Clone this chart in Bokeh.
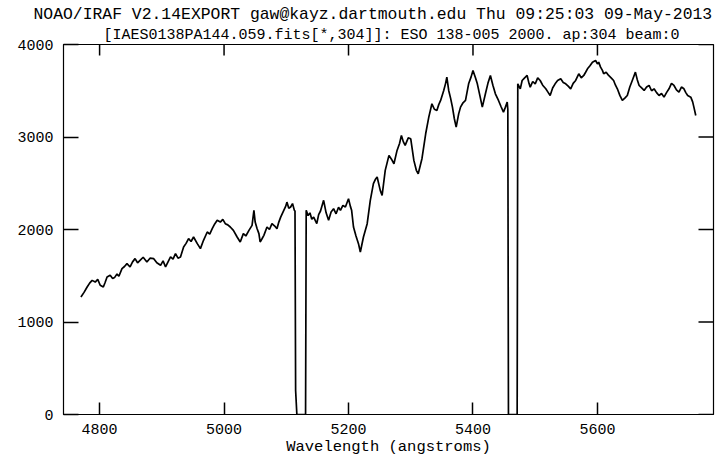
import math
from bokeh.plotting import figure
from bokeh.models import Range1d, FixedTicker, Title
from bokeh.embed import file_html
from bokeh.resources import INLINE

# ---- data ----
wavelength = [
    4770, 4775, 4780, 4784, 4788, 4793, 4797, 4801, 4806, 4809, 4812, 4817, 4821, 4824, 4828, 4831,
    4836, 4840, 4844, 4849, 4853, 4857, 4861, 4865, 4870, 4876, 4881, 4887, 4892, 4898, 4902, 4906,
    4910, 4914, 4918, 4922, 4926, 4930, 4935, 4939, 4943, 4947, 4951, 4957, 4962, 4967, 4973, 4977,
    4981, 4985, 4989, 4994, 4998, 5002, 5006, 5010, 5015, 5021, 5026, 5031, 5035, 5040, 5045, 5048,
    5050, 5053, 5056, 5058, 5061, 5064, 5069, 5073, 5077, 5081, 5085, 5088, 5091, 5096, 5099, 5101,
    5104, 5107, 5110, 5113, 5114, 5115, 5117, 5131, 5132, 5135, 5138, 5141, 5144, 5149, 5152, 5155,
    5160, 5164, 5168, 5172, 5176, 5180, 5184, 5187, 5191, 5195, 5200, 5203, 5205, 5208, 5212, 5216,
    5219, 5224, 5230, 5235, 5240, 5243, 5246, 5251, 5254, 5259, 5262, 5265, 5269, 5273, 5278, 5282,
    5285, 5288, 5291, 5296, 5300, 5305, 5309, 5312, 5318, 5324, 5329, 5334, 5338, 5342, 5345, 5348,
    5353, 5356, 5358, 5361, 5364, 5367, 5370, 5373, 5377, 5380, 5384, 5388, 5393, 5397, 5400, 5404,
    5407, 5411, 5415, 5420, 5424, 5428, 5432, 5436, 5441, 5445, 5449, 5452, 5455, 5456, 5457, 5471,
    5472, 5476, 5479, 5483, 5487, 5490, 5492, 5496, 5500, 5504, 5508, 5512, 5517, 5521, 5524, 5528,
    5532, 5536, 5541, 5545, 5549, 5553, 5557, 5561, 5565, 5570, 5574, 5578, 5581, 5584, 5588, 5592,
    5597, 5600, 5602, 5605, 5608, 5610, 5614, 5618, 5622, 5626, 5629, 5632, 5636, 5640, 5644, 5648,
    5652, 5656, 5661, 5664, 5667, 5671, 5675, 5679, 5683, 5687, 5691, 5695, 5699, 5703, 5707, 5711,
    5715, 5719, 5723, 5727, 5731, 5735, 5739, 5742, 5745, 5750, 5753, 5755, 5758,
]
flux = [
    1270, 1320, 1378, 1420, 1450, 1432, 1460, 1397, 1378, 1430, 1486, 1505, 1470, 1480, 1520, 1494,
    1577, 1600, 1631, 1595, 1650, 1685, 1640, 1667, 1700, 1649, 1690, 1685, 1640, 1613, 1660, 1595,
    1650, 1703, 1680, 1739, 1690, 1703, 1811, 1850, 1901, 1870, 1919, 1847, 1793, 1883, 1973, 1950,
    2009, 2060, 2099, 2080, 2110, 2063, 2050, 2027, 1991, 1919, 1865, 1955, 1930, 1991, 2045, 2207,
    2080, 2010, 1955, 1865, 1900, 1937, 2027, 2000, 2063, 2040, 2009, 2080, 2134, 2207, 2250, 2296,
    2230, 2243, 2280, 2207, 2200, 260, 0, 0, 2207, 2150, 2180, 2110, 2134, 2063, 2160, 2200,
    2315, 2180, 2099, 2190, 2225, 2170, 2240, 2207, 2260, 2243, 2333, 2250, 2207, 2027, 1930, 1847,
    1757, 1919, 2063, 2315, 2495, 2540, 2567, 2423, 2369, 2639, 2720, 2801, 2760, 2711, 2855, 2930,
    3017, 2950, 2909, 2990, 2981, 2747, 2640, 2603, 2765, 3035, 3215, 3359, 3300, 3287, 3350, 3395,
    3503, 3580, 3647, 3503, 3420, 3323, 3200, 3107, 3250, 3323, 3370, 3395, 3575, 3650, 3719, 3640,
    3575, 3450, 3323, 3467, 3580, 3665, 3560, 3467, 3395, 3330, 3269, 3320, 3377, 3300, 0, 0,
    3575, 3520, 3611, 3640, 3665, 3580, 3539, 3600, 3575, 3640, 3611, 3560, 3521, 3480, 3449, 3530,
    3575, 3610, 3629, 3590, 3575, 3550, 3521, 3580, 3611, 3683, 3640, 3665, 3700, 3737, 3770, 3809,
    3827, 3790, 3809, 3755, 3720, 3683, 3700, 3665, 3640, 3611, 3560, 3521, 3450, 3395, 3420, 3449,
    3540, 3611, 3701, 3620, 3557, 3530, 3503, 3540, 3557, 3500, 3521, 3480, 3449, 3470, 3431, 3480,
    3521, 3580, 3557, 3510, 3485, 3540, 3521, 3480, 3449, 3431, 3380, 3323, 3233,
]
x_ticks = [4800, 5000, 5200, 5400, 5600]
y_ticks = [0, 1000, 2000, 3000, 4000]
x_lo, x_hi = 4742, 5786.5
y_lo, y_hi = 0, 4000
title_line1 = "NOAO/IRAF V2.14EXPORT gaw@kayz.dartmouth.edu Thu 09:25:03 09-May-2013"
title_line2 = "[IAES0138PA144.059.fits[*,304]]: ESO 138-005 2000. ap:304 beam:0"
x_label = "Wavelength (angstroms)"

FONT = "Liberation Mono"

W, H = 715, 459
B_LEFT, B_RIGHT, B_TOP, B_BOTTOM = 63, 2, 44, 45
frame_w = W - B_LEFT - B_RIGHT
frame_h = H - B_TOP - B_BOTTOM
ux = (x_hi - x_lo) / frame_w      # data units per pixel
uy = (y_hi - y_lo) / frame_h

p = figure(width=W, height=H, output_backend="svg", toolbar_location=None,
           x_range=Range1d(x_lo, x_hi), y_range=Range1d(y_lo, y_hi),
           min_border_left=B_LEFT, min_border_right=B_RIGHT,
           min_border_top=B_TOP, min_border_bottom=B_BOTTOM,
           x_axis_label=x_label)
p.grid.visible = False
p.outline_line_color = "black"
p.outline_line_width = 1.2
p.background_fill_color = "white"
p.border_fill_color = "white"

p.line(wavelength, flux, line_color="black", line_width=1.7)

# mirrored inward tick marks on the top and right edges (dashes lying just inside the frame)
nx, ny = len(x_ticks), len(y_ticks)
p.scatter(x_ticks, [y_hi - 5.5 * uy] * nx, marker="dash", size=11, angle=math.pi / 2,
          line_color="black", line_width=1.5)
p.scatter([x_hi - 7.5 * ux] * ny, y_ticks, marker="dash", size=15,
          line_color="black", line_width=1.5)

# bottom axis (inward ticks)
xa = p.xaxis[0]
xa.ticker = FixedTicker(ticks=x_ticks)
xa.major_tick_in = 12
xa.major_tick_out = 0
xa.major_tick_line_width = 1.5
xa.minor_tick_line_color = None
xa.major_label_standoff = 9
xa.axis_label_standoff = 1
xa.major_label_text_font = FONT
xa.major_label_text_font_size = "15px"
xa.major_label_text_color = "black"
xa.axis_label_text_font = FONT
xa.axis_label_text_font_size = "15.5px"
xa.axis_label_text_font_style = "normal"
xa.axis_label_text_color = "black"
xa.axis_line_color = "black"
xa.major_tick_line_color = "black"

# left axis (inward ticks)
ya = p.yaxis[0]
ya.ticker = FixedTicker(ticks=y_ticks)
ya.major_tick_in = 15
ya.major_tick_out = 0
ya.major_tick_line_width = 1.5
ya.minor_tick_line_color = None
ya.major_label_standoff = 10
ya.major_label_orientation = "horizontal"
ya.major_label_text_font = FONT
ya.major_label_text_font_size = "15px"
ya.major_label_text_color = "black"
ya.axis_line_color = "black"
ya.major_tick_line_color = "black"

# two-line IRAF header
t2 = Title(text=title_line2, align="left", offset=40, standoff=2, text_font=FONT,
           text_font_size="15px", text_font_style="normal", text_color="black")
t1 = Title(text=title_line1, align="left", offset=-30, standoff=0, text_font=FONT,
           text_font_size="16.4px", text_font_style="normal", text_color="black")
p.add_layout(t2, "above")
p.add_layout(t1, "above")

open("out.html", "w").write(file_html(p, INLINE))
